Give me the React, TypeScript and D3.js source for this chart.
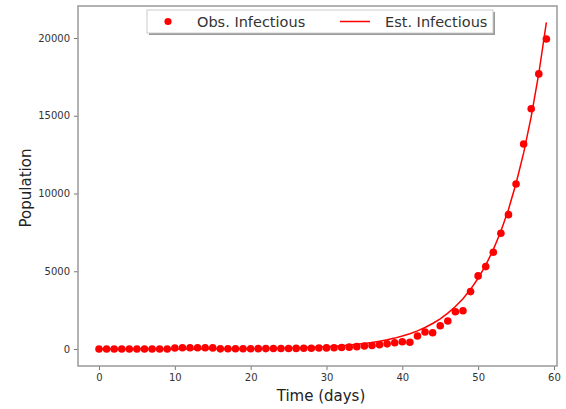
import React, { useEffect, useRef } from 'react'
import * as d3 from 'd3'

// observed infectious per day (day 0..59)
const obsInfectious = [
  2, 2, 3, 3, 3, 3, 3, 3, 3, 3,
  62, 79, 85, 85, 79, 70, 10, 12, 15, 17,
  20, 22, 25, 28, 32, 36, 40, 45, 50, 60,
  70, 85, 100, 120, 150, 190, 230, 280, 330, 400,
  470, 430, 840, 1090, 1050, 1500, 1800, 2400, 2460, 3690,
  4700, 5300, 6220, 7440, 8640, 10610, 13180, 15450, 17690, 19940,
]

// estimated (fitted) infectious per day
const estInfectious = [
  1, 1, 1, 2, 2, 2, 3, 3, 4, 4,
  5, 6, 7, 8, 10, 12, 14, 16, 20, 23,
  28, 33, 39, 46, 55, 65, 77, 91, 108, 128,
  152, 180, 213, 253, 300, 355, 421, 499, 592, 701,
  831, 985, 1168, 1384, 1640, 1944, 2304, 2731, 3237, 3837,
  4548, 5391, 6390, 7573, 8977, 10640, 12611, 14947, 17717, 21000,
]

const xTicks = [0, 10, 20, 30, 40, 50, 60]
const yTicks = [0, 5000, 10000, 15000, 20000]

function App() {
  const svgRef = useRef<SVGSVGElement>(null)

  useEffect(() => {
    const width = 566
    const height = 409
    const left = 78
    const right = 557
    const top = 6
    const bottom = 366
    const font = 'DejaVu Sans, sans-serif'

    const svg = d3.select(svgRef.current)
    svg.selectAll('*').remove()
    svg.attr('width', width).attr('height', height)

    svg.append('rect').attr('width', width).attr('height', height).attr('fill', 'white')

    const x = d3.scaleLinear().domain([-2.77, 60.4]).range([left, right])
    const y = d3.scaleLinear().domain([-1093, 22058]).range([bottom, top])

    const days = obsInfectious.map((_, i) => i)

    // est line
    const line = d3.line<number>()
      .x((d, i) => x(i))
      .y((d) => y(d))
    svg.append('path')
      .attr('d', line(estInfectious))
      .attr('fill', 'none')
      .attr('stroke', '#ff0000')
      .attr('stroke-width', 1.5)

    // obs dots
    svg.append('g')
      .selectAll('circle')
      .data(days)
      .join('circle')
      .attr('cx', (d) => x(d))
      .attr('cy', (d) => y(obsInfectious[d]))
      .attr('r', 3.8)
      .attr('fill', '#ff0000')

    // axes
    const xAxis = d3.axisBottom(x).tickValues(xTicks).tickSize(4).tickPadding(4)
    const gx = svg.append('g')
      .attr('transform', `translate(0, ${bottom})`)
      .call(xAxis)
    const yAxis = d3.axisLeft(y).tickValues(yTicks).tickSize(4).tickPadding(4).tickFormat(d3.format('d'))
    const gy = svg.append('g')
      .attr('transform', `translate(${left}, 0)`)
      .call(yAxis)

    for (const g of [gx, gy]) {
      g.select('.domain').remove()
      g.selectAll('line').attr('stroke', '#777').attr('stroke-width', 1)
      g.selectAll('text').attr('fill', '#333').attr('font-size', 10).attr('font-family', font)
    }

    // spines
    svg.append('rect')
      .attr('x', left).attr('y', top)
      .attr('width', right - left).attr('height', bottom - top)
      .attr('fill', 'none')
      .attr('stroke', '#999')
      .attr('stroke-width', 1.5)

    // axis labels
    svg.append('text')
      .attr('x', 321)
      .attr('y', 401)
      .attr('text-anchor', 'middle')
      .attr('font-size', 15)
      .attr('font-family', font)
      .attr('fill', '#222')
      .text('Time (days)')
    svg.append('text')
      .attr('transform', `translate(26, ${(top + bottom) / 2 + 2}) rotate(-90)`)
      .attr('text-anchor', 'middle')
      .attr('dy', '0.35em')
      .attr('font-size', 15)
      .attr('font-family', font)
      .attr('fill', '#222')
      .text('Population')

    // legend
    const lg = svg.append('g').attr('transform', 'translate(147, 10)')
    lg.append('rect')
      .attr('x', 2).attr('y', 2).attr('width', 346).attr('height', 23)
      .attr('fill', '#999')
    lg.append('rect')
      .attr('width', 346).attr('height', 23)
      .attr('fill', 'white')
      .attr('stroke', '#ccc')
      .attr('stroke-width', 1)
    lg.append('circle').attr('cx', 21).attr('cy', 11.5).attr('r', 3.6).attr('fill', '#ff0000')
    lg.append('text').attr('x', 50).attr('y', 11.5).attr('dy', '0.35em')
      .attr('font-size', 14.5).attr('font-family', font).attr('fill', '#333')
      .text('Obs. Infectious')
    lg.append('line').attr('x1', 193).attr('x2', 223).attr('y1', 11.5).attr('y2', 11.5)
      .attr('stroke', '#ff0000').attr('stroke-width', 1.5)
    lg.append('text').attr('x', 238).attr('y', 11.5).attr('dy', '0.35em')
      .attr('font-size', 14.5).attr('font-family', font).attr('fill', '#333')
      .text('Est. Infectious')
  }, [])

  return (
    <svg ref={svgRef} style={{ position: 'absolute', left: 0, top: 0, display: 'block' }}></svg>
  )
}

export default App
